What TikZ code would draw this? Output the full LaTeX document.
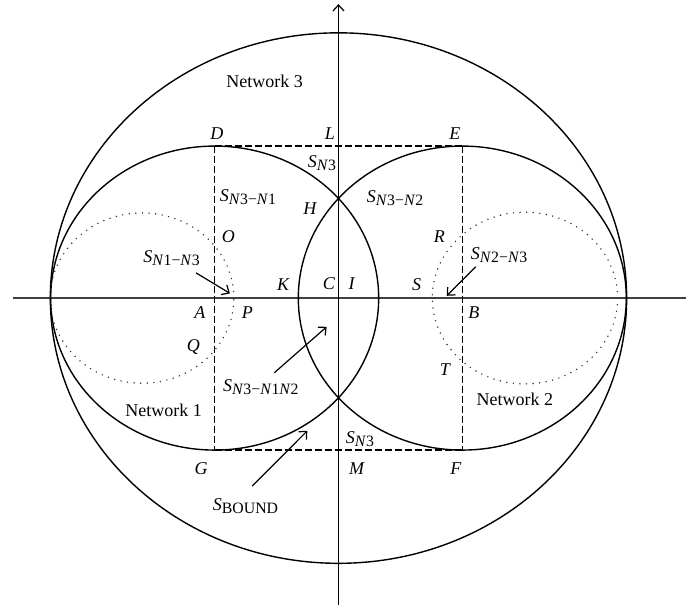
\documentclass[tikz,border=0pt]{standalone}
\usepackage{fontspec}
\setmainfont{Liberation Serif}
\usetikzlibrary{arrows.meta}
\newcommand{\Sreg}[1]{\textit{S}\raisebox{-1.4pt}{\fontsize{7.9}{9}\selectfont #1}}
\newcommand{\Nn}{\textit{N}}

\begin{document}
\begin{tikzpicture}[x=82pt, y=76pt, >={Straight Barb[length=3pt,width=5.5pt]},
  font=\fontsize{9}{11}\selectfont,
  curve/.style={line width=0.7pt},
  axis/.style={line width=1.2pt, black!75},
  bound/.style={line width=0.65pt, dash pattern=on 3.5pt off 1.5pt},
  dots/.style={line width=0.8pt, line cap=round, dash pattern=on 0pt off 3.3pt, black!80},
  pointer/.style={->, line width=0.6pt},
  letter/.style={inner sep=1pt, font=\fontsize{9}{11}\selectfont\itshape}]
  \useasboundingbox (-2.064,-2.013) rectangle (2.119,1.961);
  \coordinate (A) at (-0.755,0);
  \coordinate (B) at (0.755,0);
  \coordinate (D) at (-0.755,1);
  \coordinate (E) at (0.755,1);
  \coordinate (F) at (0.755,-1);
  \coordinate (G) at (-0.755,-1);
  \draw[axis,->] (-1.983,0) -- (2.175,0);
  \draw[line width=0.6pt,->] (0,-2.05) -- (0,1.934);
  \draw[curve] (0,0) ellipse [x radius=1.757, y radius=1.745];
  \draw[curve] (A) circle [radius=1];
  \draw[curve] (B) circle [radius=1];
  \draw[dots] (-1.198,0) circle [radius=0.56];
  \draw[dots] (1.137,0) circle [radius=0.565];
  \draw[bound] (D) -- (E) (D) -- (G) (E) -- (F) (G) -- (F);
  \node (net3) at (-0.450,1.428) {Network 3};
  \node (net1) at (-1.066,-0.737) {Network 1};
  \node (net2) at (1.076,-0.668) {Network 2};
  \node[letter] (lD) at (-0.741,1.082) {D};
  \node[letter] (lL) at (-0.052,1.084) {L};
  \node[letter] (lE) at (0.710,1.079) {E};
  \node[letter] (lH) at (-0.174,0.590) {H};
  \node[letter] (lO) at (-0.672,0.403) {O};
  \node[letter] (lR) at (0.615,0.403) {R};
  \node[letter] (lK) at (-0.337,0.086) {K};
  \node[letter] (lC) at (-0.058,0.092) {C};
  \node[letter] (lI) at (0.080,0.097) {I};
  \node[letter] (lS) at (0.477,0.090) {S};
  \node[letter] (lA) at (-0.845,-0.097) {A};
  \node[letter] (lP) at (-0.556,-0.097) {P};
  \node[letter] (lB) at (0.826,-0.097) {B};
  \node[letter] (lQ) at (-0.885,-0.320) {Q};
  \node[letter] (lT) at (0.649,-0.469) {T};
  \node[letter] (lG) at (-0.838,-1.120) {G};
  \node[letter] (lM) at (0.111,-1.120) {M};
  \node[letter] (lF) at (0.715,-1.120) {F};
  \node (s3top) at (-0.101,0.890) {\Sreg{\Nn3}};
  \node (s31) at (-0.552,0.666) {\Sreg{\Nn3−\Nn1}};
  \node (s32) at (0.345,0.656) {\Sreg{\Nn3−\Nn2}};
  \node (s13) at (-1.018,0.263) {\Sreg{\Nn1−\Nn3}};
  \node (s23) at (0.979,0.283) {\Sreg{\Nn2−\Nn3}};
  \node (s312) at (-0.473,-0.584) {\Sreg{\Nn3−\Nn1\Nn2}};
  \node (s3bot) at (0.131,-0.930) {\Sreg{\Nn3}};
  \node (sbound) at (-0.567,-1.368) {\Sreg{BOUND}};
  \coordinate (a13) at (-0.869,0.166);
  \coordinate (b13) at (-0.662,0.031);
  \coordinate (a23) at (0.837,0.206);
  \coordinate (b23) at (0.660,0.015);
  \coordinate (a312) at (-0.391,-0.491);
  \coordinate (b312) at (-0.072,-0.189);
  \coordinate (abnd) at (-0.526,-1.237);
  \coordinate (bbnd) at (-0.190,-0.873);
  \draw[pointer] (a13) -- (b13);
  \draw[pointer] (a23) -- (b23);
  \draw[pointer] (a312) -- (b312);
  \draw[pointer] (abnd) -- (bbnd);
\end{tikzpicture}
\end{document}
